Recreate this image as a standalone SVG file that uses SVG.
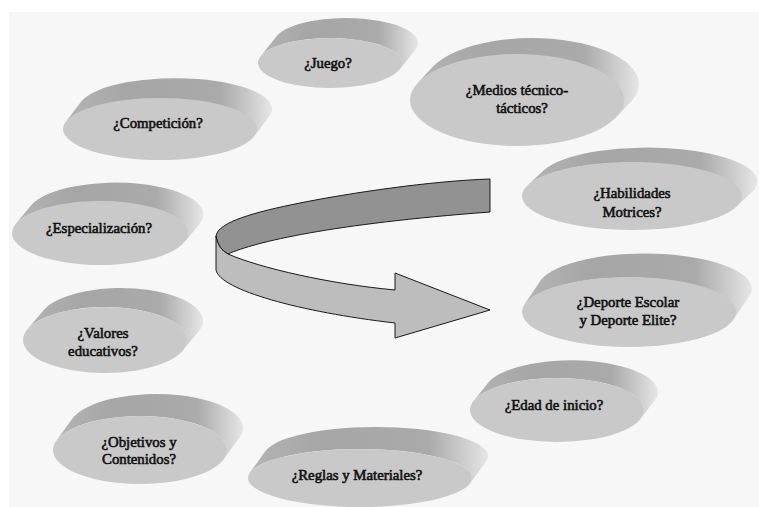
<svg xmlns="http://www.w3.org/2000/svg" width="759" height="507" viewBox="0 0 759 507">
<defs>
<linearGradient id="sideGrad" x1="0" y1="0" x2="1" y2="0">
<stop offset="0" stop-color="#b4b4b4"/>
<stop offset="0.3" stop-color="#a6a6a6"/>
<stop offset="0.75" stop-color="#aaaaaa"/>
<stop offset="0.92" stop-color="#d2d2d2"/>
<stop offset="1" stop-color="#e6e6e6"/>
</linearGradient>
<style>
.side{fill:url(#sideGrad);stroke:none}
.face{fill:#c9c9c9;stroke:none}
.lbl{font-family:"Liberation Serif",serif;font-weight:normal;font-size:14.8px;fill:#111;stroke:#111;stroke-width:0.6;text-anchor:middle}
.rib{stroke:#1a1a1a;stroke-width:1;stroke-linejoin:round}
</style>
</defs>
<rect x="0" y="0" width="759" height="507" fill="#ffffff"/>
<rect x="9" y="12" width="750" height="495" fill="#f7f7f7"/>

<g id="connectors">
<path class="rib" fill="#929292" d="M490,179 L490,212 C330,224 255,242 228,254 Q218,249 216,236 C218,222 255,212 300,203 C350,193 430,181 490,179 Z"/>
<path class="rib" fill="#bdbdbd" d="M216,236 L216,270 C220,290 300,312 395,323 L395,338 L490,310 L395,273 L395,290 C330,284 260,268 228,254 Q218,249 216,236 Z"/>
</g>

<g id="node-juego" transform="translate(330,63)">
<path class="side" d="M69.4,6.7 L85.4,-13.3 A72 25 0 0 0 -53.4,-26.7 L-69.4,-6.7 A72 25 0 0 1 69.4,6.7 Z"/>
<ellipse class="face" cx="0" cy="0" rx="72" ry="25"/>
<text class="lbl" x="-2" y="5">¿Juego?</text>
</g>

<g id="node-competicion" transform="translate(160,129)">
<path class="side" d="M94.2,7.3 L110.2,-13.7 A97 31 0 0 0 -78.2,-28.3 L-94.2,-7.3 A97 31 0 0 1 94.2,7.3 Z"/>
<ellipse class="face" cx="0" cy="0" rx="97" ry="31"/>
<text class="lbl" x="-2" y="-1">¿Competición?</text>
</g>

<g id="node-especializacion" transform="translate(100,233)">
<path class="side" d="M84.1,9.4 L100.1,-9.6 A88 32 0 0 0 -68.1,-28.4 L-84.1,-9.4 A88 32 0 0 1 84.1,9.4 Z"/>
<ellipse class="face" cx="0" cy="0" rx="88" ry="32"/>
<text class="lbl" x="-1" y="0">¿Especialización?</text>
</g>

<g id="node-valores" transform="translate(105,340)">
<path class="side" d="M77.7,10.6 L93.7,-8.4 A82 33 0 0 0 -61.7,-29.6 L-77.7,-10.6 A82 33 0 0 1 77.7,10.6 Z"/>
<ellipse class="face" cx="0" cy="0" rx="82" ry="33"/>
<text class="lbl" x="-2" y="-2">¿Valores</text>
<text class="lbl" x="-2" y="16">educativos?</text>
</g>

<g id="node-objetivos" transform="translate(140,450)">
<path class="side" d="M83.7,9.3 L99.7,-12.7 A87 34 0 0 0 -67.7,-31.3 L-83.7,-9.3 A87 34 0 0 1 83.7,9.3 Z"/>
<ellipse class="face" cx="0" cy="0" rx="87" ry="34"/>
<text class="lbl" x="-1" y="-3">¿Objetivos y</text>
<text class="lbl" x="-1" y="14">Contenidos?</text>
</g>

<g id="node-reglas" transform="translate(360,478)">
<path class="side" d="M110.1,5.4 L126.1,-16.6 A112 29 0 0 0 -94.1,-27.4 L-110.1,-5.4 A112 29 0 0 1 110.1,5.4 Z"/>
<ellipse class="face" cx="0" cy="0" rx="112" ry="29"/>
<text class="lbl" x="-3" y="2">¿Reglas y Materiales?</text>
</g>

<g id="node-medios" transform="translate(517,100)">
<path class="side" d="M99.2,17.2 L115.2,0.2 A107 46 0 0 0 -83.2,-34.2 L-99.2,-17.2 A107 46 0 0 1 99.2,17.2 Z"/>
<ellipse class="face" cx="0" cy="0" rx="107" ry="46"/>
<text class="lbl" x="0" y="-5">¿Medios técnico-</text>
<text class="lbl" x="5" y="13">tácticos?</text>
</g>

<g id="node-habilidades" transform="translate(632,196)">
<path class="side" d="M104.5,10.6 L120.5,-4.4 A110 34 0 0 0 -88.5,-25.6 L-104.5,-10.6 A110 34 0 0 1 104.5,10.6 Z"/>
<ellipse class="face" cx="0" cy="0" rx="110" ry="34"/>
<text class="lbl" x="0" y="2">¿Habilidades</text>
<text class="lbl" x="0" y="21">Motrices?</text>
</g>

<g id="node-deporte" transform="translate(629,312)">
<path class="side" d="M104.5,7.5 L120.5,-16.5 A107 35 0 0 0 -88.5,-31.5 L-104.5,-7.5 A107 35 0 0 1 104.5,7.5 Z"/>
<ellipse class="face" cx="0" cy="0" rx="107" ry="35"/>
<text class="lbl" x="-1" y="-5">¿Deporte Escolar</text>
<text class="lbl" x="-1" y="13">y Deporte Elite?</text>
</g>

<g id="node-edad" transform="translate(557,410)">
<path class="side" d="M83.8,8.6 L99.8,-12.4 A87 32 0 0 0 -67.8,-28.6 L-83.8,-8.6 A87 32 0 0 1 83.8,8.6 Z"/>
<ellipse class="face" cx="0" cy="0" rx="87" ry="32"/>
<text class="lbl" x="-3" y="0">¿Edad de inicio?</text>
</g>
</svg>
